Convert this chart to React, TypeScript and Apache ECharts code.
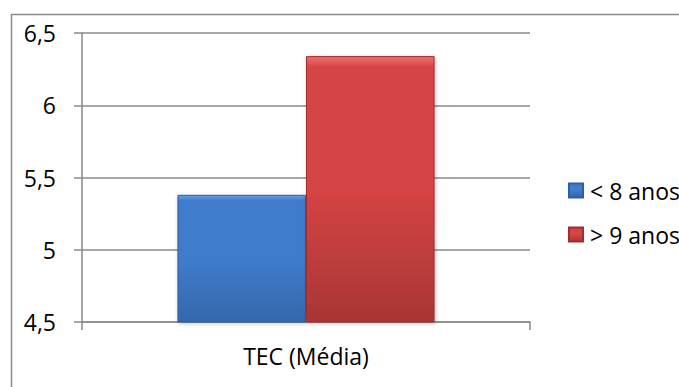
import React, { useEffect, useRef } from "react";
import * as echarts from "echarts";

const categories = ["TEC (Média)"];
const seriesNames = ["< 8 anos", "> 9 anos"];
const menos8 = [5.38];
const mais9 = [6.34];
const yTicks = { min: 4.5, max: 6.5, interval: 0.5 };

const FONT = "'Open Sans', 'DejaVu Sans', sans-serif";

function grad(top: string, mid: string, bottom: string) {
  return new echarts.graphic.LinearGradient(0, 0, 0, 1, [
    { offset: 0, color: top },
    { offset: 0.04, color: mid },
    { offset: 0.5, color: mid },
    { offset: 1, color: bottom },
  ]);
}

export default function App() {
  const ref = useRef<HTMLDivElement>(null);
  useEffect(() => {
    if (!ref.current) return;
    const chart = echarts.init(ref.current, null, { renderer: "svg" });
    chart.setOption({
      animation: false,
      backgroundColor: "#ffffff",
      textStyle: { fontFamily: FONT },
      graphic: [
        {
          type: "rect",
          shape: { x: 11.5, y: 14.5, width: 720, height: 420 },
          style: { fill: "none", stroke: "#8a8a8a", lineWidth: 1.5 },
          silent: true,
          z: -1,
        },
      ],
      grid: { left: 82, right: 149, top: 33, bottom: 65 },
      legend: {
        orient: "vertical",
        left: 563,
        top: 174,
        itemWidth: 14,
        itemHeight: 14,
        itemGap: 21,
        icon: "rect",
        textStyle: { fontFamily: FONT, fontSize: 23, color: "#000", padding: [0, 0, 0, 2] },
        data: seriesNames,
      },
      xAxis: {
        type: "category",
        data: categories,
        axisLine: { show: true, lineStyle: { color: "#8a8a8a", width: 1.5 } },
        axisTick: { show: true, length: 8, alignWithLabel: false, lineStyle: { color: "#8a8a8a", width: 1.5 } },
        axisLabel: { fontFamily: FONT, fontSize: 23, color: "#000", margin: 22 },
        splitLine: { show: false },
      },
      yAxis: {
        type: "value",
        min: yTicks.min,
        max: yTicks.max,
        interval: yTicks.interval,
        axisLine: { show: true, lineStyle: { color: "#8a8a8a", width: 1.5 } },
        axisTick: { show: true, length: 8, lineStyle: { color: "#8a8a8a", width: 1.5 } },
        axisLabel: {
          fontFamily: FONT,
          fontSize: 23,
          color: "#000",
          margin: 26,
          formatter: (v: number) => String(v).replace(".", ","),
        },
        splitLine: { show: true, lineStyle: { color: "#8a8a8a", width: 1.5 } },
      },
      series: [
        {
          name: seriesNames[0],
          type: "bar",
          data: menos8,
          barGap: "0%",
          barCategoryGap: "42.6%",
          itemStyle: {
            color: grad("#6aa3e6", "#3f7ccc", "#3567ad"),
            borderColor: "#2f5f9e",
            borderWidth: 1,
            shadowColor: "rgba(0,0,0,0.25)",
            shadowBlur: 4,
            shadowOffsetX: 1,
            shadowOffsetY: 1,
          },
        },
        {
          name: seriesNames[1],
          type: "bar",
          data: mais9,
          barGap: "0%",
          barCategoryGap: "42.6%",
          itemStyle: {
            color: grad("#f07070", "#d64444", "#a83535"),
            borderColor: "#9c2f2f",
            borderWidth: 1,
            shadowColor: "rgba(0,0,0,0.25)",
            shadowBlur: 4,
            shadowOffsetX: 1,
            shadowOffsetY: 1,
          },
        },
      ],
    });
    return () => chart.dispose();
  }, []);
  return (
    <div
      ref={ref}
      style={{ position: "fixed", left: 0, top: 0, width: 679, height: 387 }}
    />
  );
}
